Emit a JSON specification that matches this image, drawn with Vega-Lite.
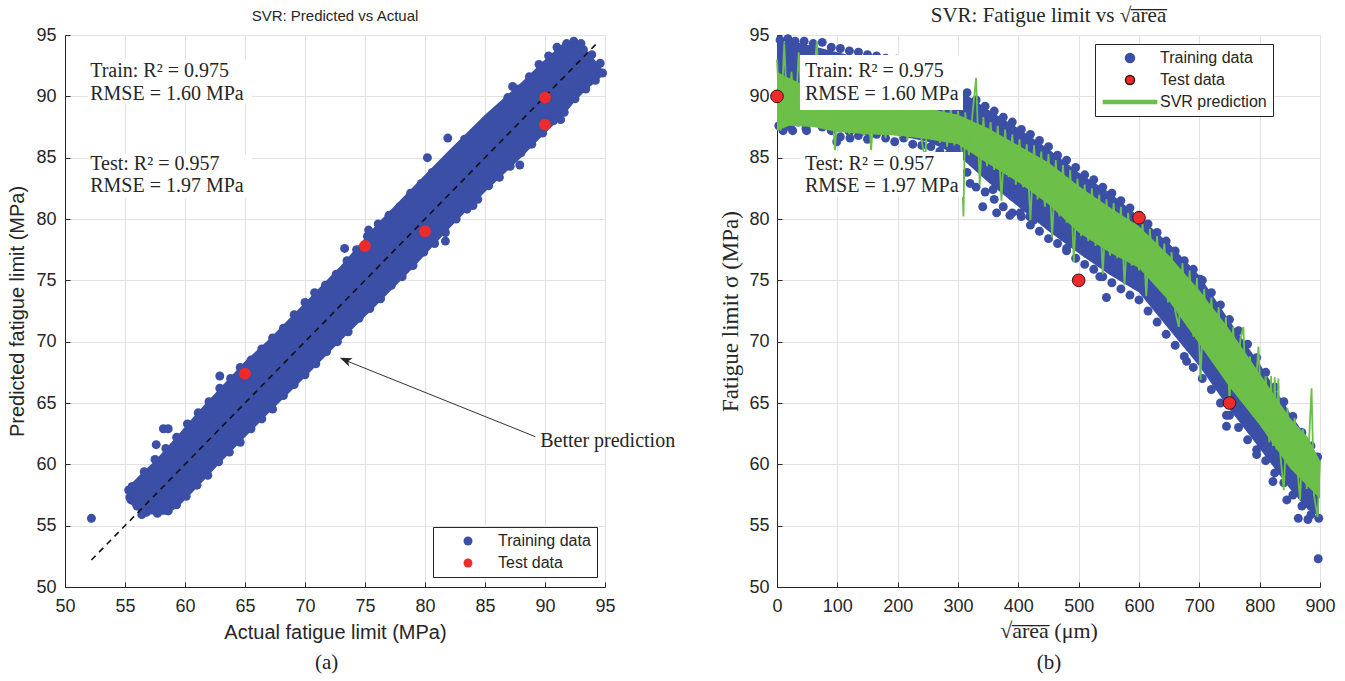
{
  "$schema": "https://vega.github.io/schema/vega-lite/v6.json",
  "padding": {"left": 7, "top": 5, "right": 5, "bottom": 5},
  "background": "white",
  "config": {
    "view": {"stroke": null},
    "font": "Liberation Sans",
    "title": {"font": "Liberation Sans", "fontSize": 15, "fontWeight": "normal", "color": "#262626", "frame": "group", "offset": 2},
    "axis": {"domainColor": "#262626", "tickColor": "#262626", "gridColor": "#e2e2e2", "labelColor": "#262626", "labelFont": "Liberation Sans", "labelFontSize": 18, "titleFont": "Liberation Sans", "titleFontSize": 20, "titleFontWeight": "normal", "titleColor": "#262626", "tickSize": -5, "labelFlush": false, "labelOverlap": false},
    "axisX": {"labelPadding": 15, "titlePadding": 7},
    "axisY": {"labelPadding": 14, "titlePadding": 8},
    "legend": {"labelFont": "Liberation Sans", "labelFontSize": 16, "labelColor": "#262626", "strokeColor": "#262626", "fillColor": "white", "padding": 6, "clipHeight": 16, "rowPadding": 6, "symbolOffset": 21, "labelOffset": 22, "symbolSize": 81, "cornerRadius": 0}
  },
  "datasets": {
    "a_band": [
      {"x": 55.3, "y": 57.0, "y2": 58.2}, {"x": 55.8, "y": 56.4, "y2": 58.7}, {"x": 56.5, "y": 56.0, "y2": 59.4},
      {"x": 57.5, "y": 55.9, "y2": 60.3}, {"x": 58.5, "y": 55.9, "y2": 61.4}, {"x": 59.5, "y": 56.6, "y2": 62.5},
      {"x": 61, "y": 58.1, "y2": 64.2}, {"x": 63, "y": 60.2, "y2": 66.3}, {"x": 65, "y": 62.2, "y2": 68.4},
      {"x": 67, "y": 64.2, "y2": 70.2}, {"x": 70, "y": 67.1, "y2": 73.2}, {"x": 73, "y": 70.1, "y2": 76.2},
      {"x": 76, "y": 73.0, "y2": 79.6}, {"x": 79, "y": 76.0, "y2": 82.6}, {"x": 82, "y": 79.2, "y2": 85.6},
      {"x": 85, "y": 82.2, "y2": 88.5}, {"x": 88, "y": 85.0, "y2": 91.1}, {"x": 90, "y": 87.0, "y2": 93.0},
      {"x": 91.5, "y": 88.4, "y2": 94.3}, {"x": 92.5, "y": 89.6, "y2": 94.3}, {"x": 93.5, "y": 90.6, "y2": 93.7},
      {"x": 94.3, "y": 91.2, "y2": 92.8}, {"x": 94.7, "y": 91.6, "y2": 92.3}
    ],
    "a_train": [
      {"x": 55.6, "y": 58.2}, {"x": 56.6, "y": 59.4}, {"x": 57.5, "y": 60.4}, {"x": 58.4, "y": 61.3}, {"x": 59.3, "y": 62.2},
      {"x": 60.2, "y": 63.3}, {"x": 61.1, "y": 64.2}, {"x": 62.0, "y": 65.1}, {"x": 62.9, "y": 66.2}, {"x": 63.8, "y": 67.0},
      {"x": 64.6, "y": 67.9}, {"x": 65.5, "y": 68.5}, {"x": 66.4, "y": 69.4}, {"x": 67.3, "y": 70.3}, {"x": 68.2, "y": 71.1},
      {"x": 69.1, "y": 72.2}, {"x": 70.0, "y": 73.2}, {"x": 70.8, "y": 74.0}, {"x": 71.7, "y": 74.6}, {"x": 72.6, "y": 75.5},
      {"x": 73.5, "y": 76.6}, {"x": 74.3, "y": 77.5}, {"x": 75.2, "y": 78.6}, {"x": 76.1, "y": 79.6}, {"x": 77.0, "y": 80.3},
      {"x": 77.9, "y": 81.0}, {"x": 78.8, "y": 82.1}, {"x": 79.7, "y": 82.9}, {"x": 80.6, "y": 83.8}, {"x": 81.5, "y": 84.4},
      {"x": 82.4, "y": 85.4}, {"x": 83.3, "y": 86.5}, {"x": 84.2, "y": 87.1}, {"x": 85.1, "y": 88.0}, {"x": 86.0, "y": 88.8},
      {"x": 86.9, "y": 89.9}, {"x": 87.8, "y": 90.6}, {"x": 88.7, "y": 91.6}, {"x": 89.5, "y": 92.6}, {"x": 90.3, "y": 93.3},
      {"x": 91.0, "y": 94.0}, {"x": 91.8, "y": 94.3}, {"x": 92.6, "y": 94.2}, {"x": 93.2, "y": 93.8}, {"x": 93.9, "y": 93.4},
      {"x": 94.6, "y": 92.7},
      {"x": 55.5, "y": 57.1}, {"x": 56.0, "y": 56.6}, {"x": 56.8, "y": 56.1}, {"x": 57.7, "y": 56.0}, {"x": 58.6, "y": 56.2},
      {"x": 59.3, "y": 56.7}, {"x": 60.1, "y": 57.4}, {"x": 61.0, "y": 58.3}, {"x": 61.9, "y": 59.1}, {"x": 62.8, "y": 60.2},
      {"x": 63.7, "y": 61.0}, {"x": 64.6, "y": 61.8}, {"x": 65.5, "y": 62.9}, {"x": 66.4, "y": 63.7}, {"x": 67.3, "y": 64.5},
      {"x": 68.2, "y": 65.6}, {"x": 69.1, "y": 66.5}, {"x": 70.0, "y": 67.3}, {"x": 70.9, "y": 68.2}, {"x": 71.8, "y": 69.2},
      {"x": 72.7, "y": 70.0}, {"x": 73.6, "y": 70.8}, {"x": 74.5, "y": 71.9}, {"x": 75.4, "y": 72.7}, {"x": 76.3, "y": 73.5},
      {"x": 77.2, "y": 74.6}, {"x": 78.1, "y": 75.3}, {"x": 79.0, "y": 76.2}, {"x": 79.9, "y": 77.3}, {"x": 80.8, "y": 78.0},
      {"x": 81.7, "y": 78.9}, {"x": 82.6, "y": 80.0}, {"x": 83.5, "y": 80.8}, {"x": 84.4, "y": 81.6}, {"x": 85.3, "y": 82.7},
      {"x": 86.2, "y": 83.4}, {"x": 87.1, "y": 84.3}, {"x": 88.0, "y": 85.4}, {"x": 88.9, "y": 86.1}, {"x": 89.8, "y": 87.0},
      {"x": 90.7, "y": 88.0}, {"x": 91.6, "y": 88.7}, {"x": 92.5, "y": 89.8}, {"x": 93.4, "y": 90.6}, {"x": 94.2, "y": 91.3},
      {"x": 94.8, "y": 91.9},
      {"x": 52.2, "y": 55.6}, {"x": 56.4, "y": 55.9}, {"x": 56.5, "y": 56.3}, {"x": 55.3, "y": 57.9}, {"x": 55.4, "y": 57.3},
      {"x": 56.25, "y": 57.9}, {"x": 57.6, "y": 61.6}, {"x": 58.2, "y": 62.9}, {"x": 58.6, "y": 62.9}, {"x": 62.9, "y": 67.2},
      {"x": 73.3, "y": 77.6}, {"x": 75.3, "y": 79.1}, {"x": 80.2, "y": 85.0}, {"x": 81.9, "y": 86.6}, {"x": 87.3, "y": 90.8},
      {"x": 81.7, "y": 78.2}, {"x": 84.0, "y": 81.1}, {"x": 87.9, "y": 84.4}, {"x": 91.3, "y": 88.1}, {"x": 92.4, "y": 94.5},
      {"x": 93.0, "y": 94.3}
    ],
    "a_test": [
      {"x": 65.0, "y": 67.4, "s": "Test data"}, {"x": 75.0, "y": 77.8, "s": "Test data"}, {"x": 80.0, "y": 79.0, "s": "Test data"},
      {"x": 90.0, "y": 89.9, "s": "Test data"}, {"x": 90.0, "y": 87.7, "s": "Test data"}
    ],
    "a_ref": [{"x": 52.2, "y": 52.2}, {"x": 94.5, "y": 94.5}],
    "a_boxes": [
      {"x": 51.9, "x2": 65.6, "y": 93.0, "y2": 89.4},
      {"x": 51.9, "x2": 65.6, "y": 85.3, "y2": 81.7}
    ],
    "a_text": [
      {"x": 52.1, "y": 92.07, "label": "Train:  R² = 0.975"},
      {"x": 52.1, "y": 90.19, "label": "RMSE = 1.60 MPa"},
      {"x": 52.1, "y": 84.49, "label": "Test:  R² = 0.957"},
      {"x": 52.1, "y": 82.69, "label": "RMSE = 1.97 MPa"},
      {"x": 89.6, "y": 61.9, "label": "Better prediction"}
    ],
    "a_arrow": [{"x": 89.2, "y": 62.25, "x2": 73.3, "y2": 68.5}],
    "a_head": [{"x": 72.9, "y": 68.68}],
    "a_caption": [{"x": 71.8, "y": 43.8, "label": "(a)"}],
    "b_band": [
      {"x": 0, "y": 87.8, "y2": 94.3}, {"x": 25, "y": 87.9, "y2": 94.5}, {"x": 50, "y": 88.0, "y2": 94.2},
      {"x": 100, "y": 87.3, "y2": 93.6}, {"x": 150, "y": 87.0, "y2": 93.0}, {"x": 200, "y": 86.8, "y2": 92.5},
      {"x": 250, "y": 86.3, "y2": 91.8}, {"x": 300, "y": 85.2, "y2": 90.6}, {"x": 350, "y": 83.0, "y2": 88.9},
      {"x": 400, "y": 81.0, "y2": 87.4}, {"x": 450, "y": 79.0, "y2": 85.7}, {"x": 500, "y": 77.2, "y2": 83.8},
      {"x": 550, "y": 75.5, "y2": 82.2}, {"x": 600, "y": 74.0, "y2": 80.2}, {"x": 650, "y": 71.0, "y2": 78.0},
      {"x": 700, "y": 68.0, "y2": 75.4}, {"x": 750, "y": 64.5, "y2": 71.7}, {"x": 800, "y": 61.3, "y2": 68.2},
      {"x": 850, "y": 58.0, "y2": 64.2}, {"x": 880, "y": 56.3, "y2": 62.0}, {"x": 898, "y": 55.8, "y2": 60.5}
    ],
    "b_train": [
      {"x": 5, "y": 94.6}, {"x": 18, "y": 94.7}, {"x": 30, "y": 94.5}, {"x": 45, "y": 94.5}, {"x": 60, "y": 94.3},
      {"x": 75, "y": 94.4}, {"x": 90, "y": 94.0}, {"x": 105, "y": 93.9}, {"x": 120, "y": 93.7}, {"x": 135, "y": 93.6},
      {"x": 150, "y": 93.4}, {"x": 165, "y": 93.3}, {"x": 180, "y": 93.1}, {"x": 195, "y": 92.9}, {"x": 210, "y": 92.8},
      {"x": 225, "y": 92.4}, {"x": 240, "y": 92.1}, {"x": 255, "y": 91.8}, {"x": 270, "y": 91.4}, {"x": 285, "y": 91.0},
      {"x": 300, "y": 90.7}, {"x": 315, "y": 90.3}, {"x": 330, "y": 89.7}, {"x": 345, "y": 89.2}, {"x": 360, "y": 88.8},
      {"x": 375, "y": 88.3}, {"x": 390, "y": 87.9}, {"x": 405, "y": 87.3}, {"x": 420, "y": 86.9}, {"x": 435, "y": 86.4},
      {"x": 450, "y": 85.9}, {"x": 465, "y": 85.2}, {"x": 480, "y": 84.8}, {"x": 495, "y": 84.2}, {"x": 510, "y": 83.6},
      {"x": 525, "y": 83.2}, {"x": 540, "y": 82.6}, {"x": 555, "y": 82.1}, {"x": 570, "y": 81.5}, {"x": 585, "y": 80.9},
      {"x": 600, "y": 80.3}, {"x": 615, "y": 79.6}, {"x": 630, "y": 78.9}, {"x": 645, "y": 78.2}, {"x": 660, "y": 77.4},
      {"x": 675, "y": 76.6}, {"x": 690, "y": 75.9}, {"x": 705, "y": 75.0}, {"x": 720, "y": 74.0}, {"x": 735, "y": 73.0},
      {"x": 750, "y": 71.8}, {"x": 765, "y": 70.9}, {"x": 780, "y": 69.8}, {"x": 795, "y": 68.7}, {"x": 810, "y": 67.5},
      {"x": 825, "y": 66.3}, {"x": 840, "y": 65.1}, {"x": 855, "y": 63.9}, {"x": 870, "y": 62.6}, {"x": 885, "y": 61.5},
      {"x": 896, "y": 60.6},
      {"x": 3, "y": 87.6}, {"x": 10, "y": 87.2}, {"x": 22, "y": 87.5}, {"x": 35, "y": 87.9}, {"x": 48, "y": 87.4},
      {"x": 62, "y": 88.0}, {"x": 75, "y": 87.5}, {"x": 90, "y": 87.2}, {"x": 105, "y": 86.7}, {"x": 120, "y": 87.1},
      {"x": 135, "y": 86.8}, {"x": 150, "y": 86.5}, {"x": 165, "y": 86.9}, {"x": 180, "y": 86.6}, {"x": 195, "y": 86.3},
      {"x": 210, "y": 86.6}, {"x": 225, "y": 86.1}, {"x": 240, "y": 86.0}, {"x": 255, "y": 85.9}, {"x": 270, "y": 85.5},
      {"x": 285, "y": 85.3}, {"x": 300, "y": 84.9}, {"x": 315, "y": 83.8}, {"x": 330, "y": 82.6}, {"x": 345, "y": 82.2},
      {"x": 360, "y": 81.6}, {"x": 375, "y": 81.0}, {"x": 390, "y": 80.5}, {"x": 405, "y": 80.2}, {"x": 420, "y": 79.5},
      {"x": 435, "y": 79.0}, {"x": 450, "y": 78.4}, {"x": 465, "y": 78.0}, {"x": 480, "y": 77.4}, {"x": 495, "y": 76.8},
      {"x": 510, "y": 76.3}, {"x": 525, "y": 75.9}, {"x": 540, "y": 75.3}, {"x": 555, "y": 74.8}, {"x": 570, "y": 74.3},
      {"x": 585, "y": 73.8}, {"x": 600, "y": 73.4}, {"x": 615, "y": 72.5}, {"x": 630, "y": 71.6}, {"x": 645, "y": 70.6},
      {"x": 660, "y": 69.7}, {"x": 675, "y": 68.8}, {"x": 690, "y": 67.9}, {"x": 705, "y": 67.0}, {"x": 720, "y": 66.1},
      {"x": 735, "y": 65.0}, {"x": 750, "y": 64.0}, {"x": 765, "y": 63.0}, {"x": 780, "y": 62.0}, {"x": 795, "y": 61.2},
      {"x": 810, "y": 60.3}, {"x": 825, "y": 59.3}, {"x": 840, "y": 58.5}, {"x": 855, "y": 57.5}, {"x": 870, "y": 56.6},
      {"x": 885, "y": 55.9}, {"x": 898, "y": 55.6},
      {"x": 897, "y": 52.3}, {"x": 26, "y": 87.2}, {"x": 49, "y": 87.2}, {"x": 99, "y": 86.3}, {"x": 121, "y": 86.6},
      {"x": 149, "y": 87.2}, {"x": 320, "y": 82.9}, {"x": 341, "y": 81.0}, {"x": 358, "y": 82.4}, {"x": 364, "y": 80.5},
      {"x": 386, "y": 80.3}, {"x": 391, "y": 81.8}, {"x": 403, "y": 80.5}, {"x": 419, "y": 80.2}, {"x": 425, "y": 79.9},
      {"x": 458, "y": 79.7}, {"x": 480, "y": 77.6}, {"x": 513, "y": 77.2}, {"x": 535, "y": 75.3}, {"x": 546, "y": 73.6},
      {"x": 635, "y": 77.8}, {"x": 679, "y": 68.4}, {"x": 701, "y": 75.1}, {"x": 745, "y": 64.0}, {"x": 745, "y": 63.1},
      {"x": 795, "y": 60.8}, {"x": 822, "y": 58.6}, {"x": 845, "y": 57.1}, {"x": 864, "y": 55.6}, {"x": 880, "y": 55.5}
    ],
    "b_svr_band": [
      {"x": 0, "y": 87.2, "y2": 92.0}, {"x": 20, "y": 87.6, "y2": 91.5}, {"x": 60, "y": 87.5, "y2": 90.6},
      {"x": 100, "y": 87.1, "y2": 90.0}, {"x": 150, "y": 86.9, "y2": 89.7}, {"x": 200, "y": 86.8, "y2": 89.4},
      {"x": 250, "y": 86.5, "y2": 89.0}, {"x": 300, "y": 86.1, "y2": 88.5}, {"x": 350, "y": 84.5, "y2": 87.4},
      {"x": 400, "y": 83.0, "y2": 86.0}, {"x": 450, "y": 81.2, "y2": 84.6}, {"x": 500, "y": 78.9, "y2": 82.7},
      {"x": 550, "y": 77.3, "y2": 81.0}, {"x": 600, "y": 76.0, "y2": 79.4}, {"x": 650, "y": 73.3, "y2": 77.0},
      {"x": 700, "y": 69.8, "y2": 74.2}, {"x": 750, "y": 66.3, "y2": 71.0}, {"x": 800, "y": 63.2, "y2": 67.4},
      {"x": 850, "y": 59.7, "y2": 63.8}, {"x": 880, "y": 58.2, "y2": 62.2}, {"x": 900, "y": 57.2, "y2": 60.3}
    ],
    "b_svr": [
      {"x": 0, "y": 93.0}, {"x": 6, "y": 87.2}, {"x": 12, "y": 94.3}, {"x": 18, "y": 87.6}, {"x": 24, "y": 92.0},
      {"x": 30, "y": 87.8}, {"x": 36, "y": 93.6}, {"x": 42, "y": 88.0}, {"x": 48, "y": 91.4}, {"x": 54, "y": 87.5},
      {"x": 60, "y": 91.0}, {"x": 66, "y": 94.5}, {"x": 72, "y": 87.6}, {"x": 78, "y": 90.6}, {"x": 84, "y": 87.3},
      {"x": 90, "y": 90.4}, {"x": 96, "y": 85.6}, {"x": 102, "y": 90.2}, {"x": 108, "y": 87.1}, {"x": 114, "y": 90.0},
      {"x": 120, "y": 86.9}, {"x": 126, "y": 92.8}, {"x": 132, "y": 87.2}, {"x": 138, "y": 89.9}, {"x": 144, "y": 86.8},
      {"x": 150, "y": 90.1}, {"x": 156, "y": 85.6}, {"x": 162, "y": 89.8}, {"x": 168, "y": 86.9}, {"x": 174, "y": 89.7},
      {"x": 180, "y": 86.6}, {"x": 186, "y": 89.9}, {"x": 192, "y": 87.0}, {"x": 198, "y": 93.4}, {"x": 204, "y": 86.7},
      {"x": 210, "y": 89.6}, {"x": 216, "y": 86.4}, {"x": 222, "y": 89.5}, {"x": 228, "y": 86.8}, {"x": 234, "y": 89.4},
      {"x": 240, "y": 86.3}, {"x": 246, "y": 84.8}, {"x": 252, "y": 92.6}, {"x": 258, "y": 86.5}, {"x": 264, "y": 89.2},
      {"x": 270, "y": 86.2}, {"x": 276, "y": 89.1}, {"x": 282, "y": 85.9}, {"x": 288, "y": 89.0}, {"x": 294, "y": 86.0},
      {"x": 300, "y": 88.8}, {"x": 306, "y": 85.5}, {"x": 309, "y": 80.2}, {"x": 312, "y": 88.7}, {"x": 318, "y": 85.2},
      {"x": 324, "y": 88.6}, {"x": 330, "y": 91.5}, {"x": 336, "y": 82.8}, {"x": 342, "y": 88.3}, {"x": 348, "y": 84.3},
      {"x": 354, "y": 87.9}, {"x": 360, "y": 84.0}, {"x": 366, "y": 87.6}, {"x": 372, "y": 81.5}, {"x": 378, "y": 87.3},
      {"x": 384, "y": 83.4}, {"x": 390, "y": 86.9}, {"x": 396, "y": 82.8}, {"x": 402, "y": 86.5}, {"x": 408, "y": 82.6},
      {"x": 414, "y": 86.1}, {"x": 420, "y": 79.9}, {"x": 426, "y": 86.0}, {"x": 432, "y": 81.6}, {"x": 438, "y": 85.5},
      {"x": 444, "y": 81.0}, {"x": 450, "y": 85.3}, {"x": 456, "y": 78.5}, {"x": 462, "y": 84.8}, {"x": 468, "y": 80.2},
      {"x": 474, "y": 84.4}, {"x": 480, "y": 79.7}, {"x": 486, "y": 84.0}, {"x": 492, "y": 76.5}, {"x": 498, "y": 83.3},
      {"x": 504, "y": 78.6}, {"x": 510, "y": 82.8}, {"x": 516, "y": 78.2}, {"x": 522, "y": 82.5}, {"x": 528, "y": 77.8},
      {"x": 534, "y": 82.0}, {"x": 540, "y": 75.5}, {"x": 546, "y": 81.6}, {"x": 552, "y": 77.0}, {"x": 558, "y": 81.3},
      {"x": 564, "y": 76.8}, {"x": 570, "y": 81.0}, {"x": 576, "y": 74.6}, {"x": 582, "y": 80.5}, {"x": 588, "y": 76.2},
      {"x": 594, "y": 80.1}, {"x": 600, "y": 75.8}, {"x": 606, "y": 79.6}, {"x": 612, "y": 73.7}, {"x": 618, "y": 79.2},
      {"x": 624, "y": 75.0}, {"x": 630, "y": 78.6}, {"x": 636, "y": 74.2}, {"x": 642, "y": 78.0}, {"x": 648, "y": 73.2},
      {"x": 654, "y": 77.3}, {"x": 660, "y": 72.5}, {"x": 666, "y": 71.2}, {"x": 672, "y": 76.4}, {"x": 678, "y": 71.6},
      {"x": 684, "y": 75.8}, {"x": 690, "y": 70.4}, {"x": 696, "y": 75.2}, {"x": 702, "y": 66.9}, {"x": 708, "y": 74.3},
      {"x": 714, "y": 69.0}, {"x": 720, "y": 73.6}, {"x": 726, "y": 68.2}, {"x": 732, "y": 72.8}, {"x": 738, "y": 67.3},
      {"x": 744, "y": 72.0}, {"x": 750, "y": 65.2}, {"x": 756, "y": 71.2}, {"x": 762, "y": 66.0}, {"x": 768, "y": 70.2},
      {"x": 773, "y": 71.2}, {"x": 778, "y": 64.7}, {"x": 784, "y": 68.8}, {"x": 790, "y": 63.9}, {"x": 798, "y": 69.6},
      {"x": 804, "y": 63.0}, {"x": 810, "y": 67.2}, {"x": 816, "y": 61.8}, {"x": 819, "y": 67.2}, {"x": 822, "y": 61.5},
      {"x": 825, "y": 67.1}, {"x": 828, "y": 61.2}, {"x": 831, "y": 67.0}, {"x": 834, "y": 60.9}, {"x": 840, "y": 57.9},
      {"x": 846, "y": 64.6}, {"x": 852, "y": 59.8}, {"x": 858, "y": 63.8}, {"x": 864, "y": 58.8}, {"x": 867, "y": 57.1},
      {"x": 872, "y": 62.9}, {"x": 878, "y": 58.0}, {"x": 886, "y": 66.2}, {"x": 890, "y": 57.5}, {"x": 896, "y": 55.7},
      {"x": 900, "y": 60.3}
    ],
    "b_test": [
      {"x": 0, "y": 90.0, "s": "Test data"}, {"x": 500, "y": 75.0, "s": "Test data"},
      {"x": 600, "y": 80.1, "s": "Test data"}, {"x": 750, "y": 65.0, "s": "Test data"}
    ],
    "b_boxes": [
      {"x": 38.1, "x2": 308.3, "y": 93.37, "y2": 88.89},
      {"x": 38.1, "x2": 308.3, "y": 85.46, "y2": 81.8}
    ],
    "b_text": [
      {"x": 46.4, "y": 92.07, "label": "Train:  R² = 0.975"},
      {"x": 46.4, "y": 90.19, "label": "RMSE = 1.60 MPa"},
      {"x": 46.4, "y": 84.49, "label": "Test:  R² = 0.957"},
      {"x": 46.4, "y": 82.69, "label": "RMSE = 1.97 MPa"}
    ],
    "b_caption": [{"x": 450.8, "y": 43.8, "label": "(b)"}]
  },
  "hconcat": [
    {
      "width": 540,
      "height": 552,
      "title": {"text": "SVR: Predicted vs Actual", "offset": 2},
      "encoding": {
        "x": {"field": "x", "type": "quantitative", "title": "Actual fatigue limit (MPa)", "scale": {"domain": [50, 95], "nice": false, "zero": false}, "axis": {"values": [50, 55, 60, 65, 70, 75, 80, 85, 90, 95]}},
        "y": {"field": "y", "type": "quantitative", "title": "Predicted fatigue limit (MPa)", "scale": {"domain": [50, 95], "nice": false, "zero": false}, "axis": {"values": [50, 55, 60, 65, 70, 75, 80, 85, 90, 95]}}
      },
      "layer": [
        {"data": {"name": "a_band"}, "mark": {"type": "area", "color": "#3a4fa5", "opacity": 1}, "encoding": {"y2": {"field": "y2"}}},
        {"data": {"name": "a_train"}, "mark": {"type": "point", "filled": true, "opacity": 1, "size": 80, "color": "#3a4fa5"}, "encoding": {}},
        {"data": {"name": "a_ref"}, "mark": {"type": "line", "color": "#111111", "strokeWidth": 1.6, "strokeDash": [6, 5]}, "encoding": {}},
        {"data": {"name": "a_test"}, "mark": {"type": "point", "filled": true, "opacity": 1, "size": 140},
         "encoding": {"color": {"field": "s", "type": "nominal",
           "scale": {"domain": ["Training data", "Test data"], "range": ["#3a4fa5", "#ee2b2b"]},
           "legend": {"orient": "none", "legendX": 368, "legendY": 492, "title": null, "symbolType": "circle", "symbolOpacity": 1}}}},
        {"data": {"name": "a_boxes"}, "mark": {"type": "rect", "color": "white"}, "encoding": {"x2": {"field": "x2"}, "y2": {"field": "y2"}}},
        {"data": {"name": "a_text"}, "mark": {"type": "text", "align": "left", "baseline": "middle", "font": "Liberation Serif", "fontSize": 20, "color": "#262626"}, "encoding": {"text": {"field": "label"}}},
        {"data": {"name": "a_arrow"}, "mark": {"type": "rule", "color": "#333333", "strokeWidth": 1}, "encoding": {"x2": {"field": "x2"}, "y2": {"field": "y2"}}},
        {"data": {"name": "a_head"}, "mark": {"type": "point", "filled": true, "opacity": 1, "color": "#262626", "size": 400, "angle": 292, "shape": "M0,0 L0.45,1.2 L0,0.9 L-0.45,1.2 Z"}, "encoding": {}},
        {"data": {"name": "a_caption"}, "mark": {"type": "text", "align": "center", "baseline": "middle", "font": "Liberation Serif", "fontSize": 21, "color": "#222222"}, "encoding": {"text": {"field": "label"}}}
      ]
    },
    {
      "width": 543,
      "height": 552,
      "title": {"text": "SVR: Fatigue limit vs √a̅r̅e̅a̅", "font": "Liberation Serif", "fontSize": 21, "offset": 0},
      "encoding": {
        "x": {"field": "x", "type": "quantitative", "title": "√a̅r̅e̅a̅ (μm)", "scale": {"domain": [0, 900], "nice": false, "zero": false}, "axis": {"values": [0, 100, 200, 300, 400, 500, 600, 700, 800, 900], "titleFont": "Liberation Serif", "titleFontSize": 22, "titlePadding": 5}},
        "y": {"field": "y", "type": "quantitative", "title": "Fatigue limit σ (MPa)", "scale": {"domain": [50, 95], "nice": false, "zero": false}, "axis": {"values": [50, 55, 60, 65, 70, 75, 80, 85, 90, 95], "titleFont": "Liberation Serif", "titleFontSize": 23, "labelPadding": 13, "titlePadding": 6}}
      },
      "layer": [
        {"data": {"name": "b_band"}, "mark": {"type": "area", "color": "#3a4fa5", "opacity": 1}, "encoding": {"y2": {"field": "y2"}}},
        {"data": {"name": "b_train"}, "mark": {"type": "point", "filled": true, "opacity": 1, "size": 80, "color": "#3a4fa5"}, "encoding": {}},
        {"data": {"name": "b_svr_band"}, "mark": {"type": "area", "color": "#6cbf48", "opacity": 1}, "encoding": {"y2": {"field": "y2"}}},
        {"data": {"name": "b_svr"}, "mark": {"type": "line", "strokeWidth": 1.8, "opacity": 1, "color": "#6cbf48"}, "encoding": {}},
        {"data": {"name": "b_test"}, "mark": {"type": "point", "filled": true, "opacity": 1, "size": 160, "strokeWidth": 1},
         "encoding": {
           "color": {"field": "s", "type": "nominal", "title": null,
             "scale": {"domain": ["Training data", "Test data", "SVR prediction"], "range": ["#3a4fa5", "#ee2b2b", "#6cbf48"]},
             "legend": {"orient": "none", "legendX": 318, "legendY": 9, "title": null, "symbolOpacity": 1}},
           "shape": {"field": "s", "type": "nominal", "title": null,
             "scale": {"domain": ["Training data", "Test data", "SVR prediction"], "range": ["circle", "circle", "M-5.9,-0.32 L5.9,-0.32 L5.9,0.32 L-5.9,0.32 Z"]},
             "legend": {"orient": "none", "legendX": 318, "legendY": 9, "title": null, "symbolOpacity": 1}},
           "stroke": {"field": "s", "type": "nominal", "title": null,
             "scale": {"domain": ["Training data", "Test data", "SVR prediction"], "range": ["#3a4fa5", "#3a1212", "#6cbf48"]},
             "legend": {"orient": "none", "legendX": 318, "legendY": 9, "title": null, "symbolOpacity": 1}}
         }},
        {"data": {"name": "b_boxes"}, "mark": {"type": "rect", "color": "white"}, "encoding": {"x2": {"field": "x2"}, "y2": {"field": "y2"}}},
        {"data": {"name": "b_text"}, "mark": {"type": "text", "align": "left", "baseline": "middle", "font": "Liberation Serif", "fontSize": 20, "color": "#262626"}, "encoding": {"text": {"field": "label"}}},
        {"data": {"name": "b_caption"}, "mark": {"type": "text", "align": "center", "baseline": "middle", "font": "Liberation Serif", "fontSize": 21, "color": "#222222"}, "encoding": {"text": {"field": "label"}}}
      ]
    }
  ],
  "spacing": 172,
  "bounds": "flush",
  "resolve": {
    "scale": {"color": "independent", "shape": "independent", "stroke": "independent", "x": "independent", "y": "independent"},
    "legend": {"color": "independent", "shape": "independent", "stroke": "independent"}
  }
}
